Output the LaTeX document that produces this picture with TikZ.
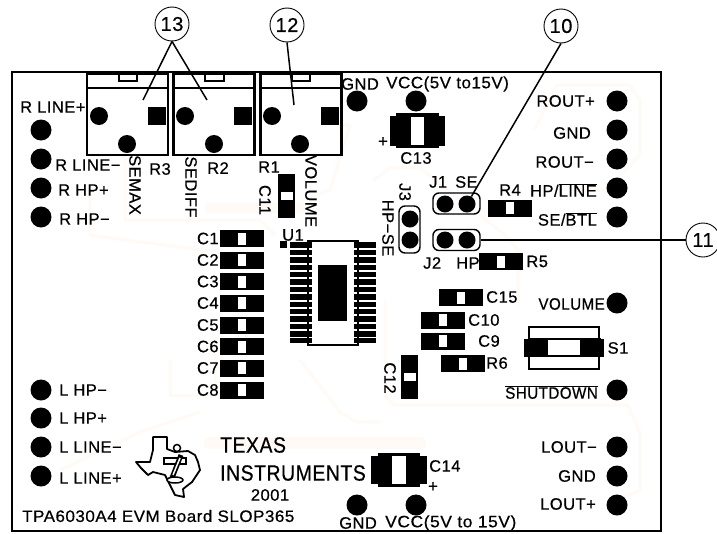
\documentclass[tikz,border=0pt]{standalone}
\usepackage{fontspec}
\setmainfont[LetterSpace=3, RawFeature={embolden=0.5}]{Liberation Sans}
\usetikzlibrary{positioning}

\begin{document}
\begin{tikzpicture}[
    x=1pt, y=-1pt,
    trace/.style={draw=orange!4, line width=3pt, line join=round},
    pad/.style={circle, fill=black, minimum size=21, inner sep=0},
    hole/.style={circle, fill=black, minimum size=18, inner sep=0},
    potbox/.style={rectangle, draw=black, line width=2.4pt, fill=white, minimum width=81, minimum height=81, inner sep=0},
    smdh/.style={rectangle, fill=black, minimum width=44, minimum height=17, inner sep=0},
    smdv/.style={rectangle, fill=black, minimum width=17, minimum height=44, inner sep=0},
    gaph/.style={rectangle, fill=white, minimum width=8, minimum height=12, inner sep=0},
    gapv/.style={rectangle, fill=white, minimum width=12, minimum height=8, inner sep=0},
    pin/.style={rectangle, fill=black, minimum width=22, minimum height=5.4, inner sep=0},
    jumph/.style={rectangle, rounded corners=6pt, draw=black, line width=1.4pt, minimum width=47, minimum height=21, inner sep=0},
    jumpv/.style={rectangle, rounded corners=6pt, draw=black, line width=1.4pt, minimum width=21, minimum height=47, inner sep=0},
    jpad/.style={circle, fill=black, minimum size=17, inner sep=0},
    callout/.style={circle, draw=black, line width=0.9pt, fill=white, minimum size=34, inner sep=0, font=\fontsize{20}{20}\selectfont},
    lead/.style={draw=black, line width=1.5pt},
    lbl/.style={inner sep=0, font=\fontsize{16.5}{17}\selectfont},
    big/.style={inner sep=0, xscale=.88, font=\fontsize{22}{22}\selectfont}
]
    \useasboundingbox (0,0) rectangle (717,533);
    \fill[white] (0,0) rectangle (717,533);

    % Faint copper traces
    \draw[trace] (534,130) -- (557,85) -- (630,85) -- (640,100) -- (640,155) -- (605,190) -- (575,190);
    \draw[trace] (374,180) -- (390,168) -- (420,168) -- (505,235) -- (518,250) -- (518,305);
    \draw[trace] (385,300) -- (385,395) -- (393,405) -- (628,405) -- (640,433) -- (640,490) -- (625,497);
    \draw[trace, line width=12pt, line cap=round] (210,443) -- (420,443);
    \draw[trace] (300,360) -- (340,412) -- (357,422) -- (380,422);
    \draw[trace] (90,190) -- (90,235) -- (200,250) -- (214,250);
    \draw[trace] (170,360) -- (170,395) -- (215,395) -- (215,335);
    \draw[trace] (125,155) -- (125,220) -- (260,220) -- (275,235);
    \draw[trace, line width=10pt, line cap=round] (210,208) -- (300,208);
    \draw[trace] (340,125) -- (350,125) -- (330,190) -- (305,200);
    \draw[trace] (60,470) -- (140,432) -- (200,412);

    % Board outline
    \draw[black, line width=2.8pt] (12,72) rectangle (661,531);

    % Pots
    \node[potbox] (r3) at (127.5,114.5) {};
    \node[potbox] (r2) at (214,114.5) {};
    \node[potbox] (r1) at (301,114.5) {};
    \draw[black, line width=1.8pt] (87,88) -- (168,88);
    \draw[black, line width=1.8pt] (173,88) -- (255,88);
    \draw[black, line width=1.8pt] (260,88) -- (342,88);
    \draw[black, line width=1.4pt] (119,74) -- (119,81) -- (137,81) -- (137,74);
    \draw[black, line width=1.4pt] (205,74) -- (205,81) -- (224,81) -- (224,74);
    \draw[black, line width=1.4pt] (292,74) -- (292,81) -- (310,81) -- (310,74);
    \node[hole] (r3a) at (99,116) {};
    \node[hole] (r3b) at (127,144) {};
    \node[hole] (r2a) at (185,116) {};
    \node[hole] (r2b) at (214,144) {};
    \node[hole] (r1a) at (272,116) {};
    \node[hole] (r1b) at (300,144) {};
    \node[rectangle, fill=black, minimum size=18, inner sep=0] (r3c) at (157,116) {};
    \node[rectangle, fill=black, minimum size=18, inner sep=0] (r2c) at (243,116) {};
    \node[rectangle, fill=black, minimum size=18, inner sep=0] (r1c) at (330,116) {};

    % Left pads
    \node[pad] (rlinep) at (41,130) {};
    \node[pad] (rlinem) at (41,159) {};
    \node[pad] (rhpp) at (41,188) {};
    \node[pad] (rhpm) at (41,217) {};
    \node[pad] (lhpm) at (41,390) {};
    \node[pad] (lhpp) at (41,418) {};
    \node[pad] (llinem) at (41,447) {};
    \node[pad] (llinep) at (41,476) {};

    % Right pads
    \node[pad] (routp) at (617,101) {};
    \node[pad] (routg) at (617,130) {};
    \node[pad] (routm) at (617,159) {};
    \node[pad] (hpline) at (617,188) {};
    \node[pad] (sebtl) at (617,217) {};
    \node[pad] (volpad) at (617,303) {};
    \node[pad] (shutpad) at (617,390) {};
    \node[pad] (loutm) at (617,447) {};
    \node[pad] (loutg) at (617,476) {};
    \node[pad] (loutp) at (617,505) {};

    % Supply pads
    \node[pad] (gndtop) at (357,101) {};
    \node[pad] (vcctop) at (416,101) {};
    \node[pad] (gndbot) at (357,505) {};
    \node[pad] (vccbot) at (416,505) {};

    % Left labels
    \node[lbl, anchor=west] (tlinep) at (20,107) {R LINE+};
    \node[lbl, anchor=west] (tlinem) at (55,165) {R LINE−};
    \node[lbl, anchor=west] (thpp) at (58,190) {R HP+};
    \node[lbl, anchor=west] (thpm) at (59,219) {R HP−};
    \node[lbl, anchor=west] (tlhpm) at (59,390) {L HP−};
    \node[lbl, anchor=west] (tlhpp) at (59,418) {L HP+};
    \node[lbl, anchor=west] (tllinem) at (59,447) {L LINE−};
    \node[lbl, anchor=west] (tllinep) at (59,478) {L LINE+};

    % Pot labels
    \node[lbl, rotate=-90] (tsemax) at (135,185) {SEMAX};
    \node[lbl, rotate=-90] (tsediff) at (191,187) {SEDIFF};
    \node[lbl, rotate=-90] (tvol) at (311,191) {VOLUME};
    \node[lbl] (tr3) at (160,169) {R3};
    \node[lbl] (tr2) at (218,168) {R2};
    \node[lbl] (tr1) at (269,167) {R1};

    % Right labels
    \node[lbl, anchor=east] (trp) at (595,101) {ROUT+};
    \node[lbl, anchor=east] (trg) at (591,133) {GND};
    \node[lbl, anchor=east] (trm) at (594,162) {ROUT−};
    \node[lbl, anchor=east] (thl) at (597,190) {HP/$\overline{\mbox{LINE}}$};
    \node[lbl, anchor=east] (tsb) at (597,219) {SE/$\overline{\mbox{BTL}}$};
    \node[lbl, anchor=east, xscale=.92] (tvp) at (605,304) {VOLUME};
    \node[lbl, anchor=east, xscale=.92] (tsd) at (598,392) {$\overline{\mbox{SHUTDOWN}}$};
    \node[lbl, anchor=east] (tlm) at (597,447) {LOUT−};
    \node[lbl, anchor=east] (tlg) at (596,476) {GND};
    \node[lbl, anchor=east] (tlp) at (596,504) {LOUT+};

    % Supply labels
    \node[lbl] (tgndtop) at (360,84) {GND};
    \node[lbl, anchor=west, xscale=1.03] (tvcctop) at (386,84) {VCC(5V to15V)};
    \node[lbl] (tgndbot) at (358,523) {GND};
    \node[lbl, anchor=west, xscale=1.06] (tvccbot) at (385,523) {VCC(5V to 15V)};

    % C1 to C8
    \node[smdh] (c1) at (242,238.5) {};
    \node[smdh] (c2) at (242,260) {};
    \node[smdh] (c3) at (242,281.5) {};
    \node[smdh] (c4) at (242,303) {};
    \node[smdh] (c5) at (242,325) {};
    \node[smdh] (c6) at (242,346.5) {};
    \node[smdh] (c7) at (242,368) {};
    \node[smdh] (c8) at (242,390) {};
    \node[gaph] at (c1) {};
    \node[gaph] at (c2) {};
    \node[gaph] at (c3) {};
    \node[gaph] at (c4) {};
    \node[gaph] at (c5) {};
    \node[gaph] at (c6) {};
    \node[gaph] at (c7) {};
    \node[gaph] at (c8) {};
    \node[lbl, left=1pt of c1] (tc1) {C1};
    \node[lbl, left=1pt of c2] (tc2) {C2};
    \node[lbl, left=1pt of c3] (tc3) {C3};
    \node[lbl, left=1pt of c4] (tc4) {C4};
    \node[lbl, left=1pt of c5] (tc5) {C5};
    \node[lbl, left=1pt of c6] (tc6) {C6};
    \node[lbl, left=1pt of c7] (tc7) {C7};
    \node[lbl, left=1pt of c8] (tc8) {C8};

    % C11, C12
    \node[smdv] (c11) at (286.5,196) {};
    \node[gapv] at (c11) {};
    \node[lbl, rotate=-90] (tc11) at (265,200) {C11};
    \node[smdv] (c12) at (409.5,377) {};
    \node[gapv] at (c12) {};
    \node[lbl, rotate=-90] (tc12) at (390,378) {C12};

    % U1
    \draw[black, line width=1.2pt, fill=white] (308,241) rectangle (358,345);
    \node[rectangle, fill=black, minimum size=7.5, inner sep=0] (pinone) at (283.5,244.5) {};
    \node[lbl] (tu1) at (293,235) {U1};
    \node[pin] (pl1) at (301,245) {};
    \node[pin] (pl2) at (301,252.4) {};
    \node[pin] (pl3) at (301,259.8) {};
    \node[pin] (pl4) at (301,267.2) {};
    \node[pin] (pl5) at (301,274.6) {};
    \node[pin] (pl6) at (301,282) {};
    \node[pin] (pl7) at (301,289.4) {};
    \node[pin] (pl8) at (301,296.8) {};
    \node[pin] (pl9) at (301,304.2) {};
    \node[pin] (pl10) at (301,311.6) {};
    \node[pin] (pl11) at (301,319) {};
    \node[pin] (pl12) at (301,326.4) {};
    \node[pin] (pl13) at (301,333.8) {};
    \node[pin] (pl14) at (301,340.5) {};
    \node[pin] (pr1) at (365,245) {};
    \node[pin] (pr2) at (365,252.4) {};
    \node[pin] (pr3) at (365,259.8) {};
    \node[pin] (pr4) at (365,267.2) {};
    \node[pin] (pr5) at (365,274.6) {};
    \node[pin] (pr6) at (365,282) {};
    \node[pin] (pr7) at (365,289.4) {};
    \node[pin] (pr8) at (365,296.8) {};
    \node[pin] (pr9) at (365,304.2) {};
    \node[pin] (pr10) at (365,311.6) {};
    \node[pin] (pr11) at (365,319) {};
    \node[pin] (pr12) at (365,326.4) {};
    \node[pin] (pr13) at (365,333.8) {};
    \node[pin] (pr14) at (365,340.5) {};
    \fill[black] (318,265) rectangle (347,321);

    % C13, C14
    \fill[black] (390,116) rectangle (445,146);
    \fill[black] (396,113) rectangle (439,148);
    \node[rectangle, fill=white, minimum width=13, minimum height=28, inner sep=0] (c13gap) at (417.5,131) {};
    \node[lbl] (tc13) at (416,158) {C13};
    \node[lbl] (tc13p) at (383,142) {+};
    \fill[black] (371,456) rectangle (427,484);
    \fill[black] (378,453) rectangle (420,487);
    \node[rectangle, fill=white, minimum width=14, minimum height=28, inner sep=0] (c14gap) at (399,470) {};
    \node[lbl, anchor=west] (tc14) at (429,466) {C14};
    \node[lbl] (tc14p) at (433,487) {+};

    % Jumpers
    \node[jumph] (j1) at (456.5,203.5) {};
    \node[jpad] (j1a) at (445,204) {};
    \node[jpad] (j1b) at (467,204) {};
    \node[jumph] (j2) at (456.5,240) {};
    \node[jpad] (j2a) at (445,240) {};
    \node[jpad] (j2b) at (467,240) {};
    \node[jumpv] (j3) at (409.5,229.5) {};
    \node[jpad] (j3a) at (410,219) {};
    \node[jpad] (j3b) at (410,240) {};
    \node[lbl, anchor=west] (tj1) at (429,182) {J1};
    \node[lbl, anchor=west] (tse) at (455,182) {SE};
    \node[lbl, anchor=west] (tj2) at (423,263) {J2};
    \node[lbl, anchor=west] (thp) at (456,263) {HP};
    \node[lbl, rotate=-90] (tj3) at (405,192) {J3};
    \node[lbl, rotate=-90] (thpse) at (388,228) {HP−SE};

    % R4, R5, R6, C9, C10, C15
    \node[smdh] (r4) at (510,208) {};
    \node[gaph] at (r4) {};
    \node[lbl, anchor=west] (tr4) at (499,190) {R4};
    \node[smdh] (r5) at (501,261.5) {};
    \node[gaph] at (r5) {};
    \node[lbl, right=3pt of r5] (tr5) {R5};
    \node[smdh] (c15) at (461,297.5) {};
    \node[gaph] at (c15) {};
    \node[lbl, anchor=west] (tc15) at (486,297) {C15};
    \node[smdh] (c10) at (443,320) {};
    \node[gaph] at (c10) {};
    \node[lbl, anchor=west] (tc10) at (468,320) {C10};
    \node[smdh] (c9) at (443,341) {};
    \node[gaph] at (c9) {};
    \node[lbl, anchor=west] (tc9) at (478,341) {C9};
    \node[smdh] (r6) at (462.5,363.5) {};
    \node[gaph] at (r6) {};
    \node[lbl, anchor=west] (tr6) at (486,363) {R6};

    % S1
    \draw[black, line width=1.8pt] (529,327) rectangle (599,369);
    \draw[black, line width=1.4pt, fill=white] (530,339) rectangle (600,356);
    \fill[black] (524,339) rectangle (548,357);
    \fill[black] (580,339) rectangle (604,357);
    \node[lbl] (ts1) at (618,348) {S1};

    % Logo
    \draw[black, line width=1.8pt, line join=round]
        (153,437) -- (167,437) -- (167,449) -- (175,452) -- (188,451) -- (195,455) -- (198,462) -- (200,470)
        -- (192,482) -- (183,489) -- (184,497) -- (175,495) -- (165,475) -- (153,472) -- (148,475) -- (141,468)
        -- (136,462) -- (150,462) -- (153,450) -- cycle;
    \draw[black, line width=1.5pt, fill=white] (177,448) circle (3.5pt);
    \draw[black, line width=1.4pt, fill=white] (164,458) rectangle (186,464);
    \draw[black, line width=5pt] (181,455) -- (172,478);
    \draw[white, line width=1.5pt] (180,458) -- (173,475);
    \draw[black, line width=1.5pt, fill=white] (175,480) ellipse (8pt and 3pt);

    % Logo text
    \node[big, anchor=west] (ttexas) at (220,445) {TEXAS};
    \node[big, anchor=west] (tti) at (220,473) {INSTRUMENTS};
    \node[lbl] (tyear) at (270,495) {2001};
    \node[lbl, anchor=west, xscale=1.03] (tboard) at (22,516) {TPA6030A4 EVM Board SLOP365};

    % Callouts
    \node[callout] (n13) at (172,24) {13};
    \node[callout] (n12) at (287,25) {12};
    \node[callout] (n10) at (561,26) {10};
    \node[callout] (n11) at (703,240) {11};
    \coordinate (e13a) at (143,100);
    \coordinate (e13b) at (207,100);
    \coordinate (e12) at (294,105);
    \draw[lead] (n13.south) -- (e13a);
    \draw[lead] (n13.south) -- (e13b);
    \draw[lead] (n12.south) -- (e12);
    \draw[lead] (n10.south) -- (j1b);
    \draw[lead] (n11.west) -- (j2.east);

\end{tikzpicture}
\end{document}
